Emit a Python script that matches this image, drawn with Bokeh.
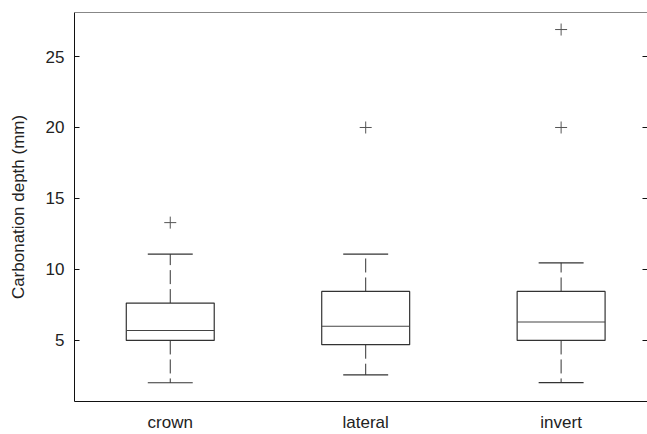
from bokeh.plotting import figure
from bokeh.models import LinearAxis, FixedTicker, Range1d
from bokeh.embed import file_html
from bokeh.resources import INLINE

categories = ["crown", "lateral", "invert"]
q1 = [5.0, 4.7, 5.0]
median = [5.7, 6.0, 6.3]
q3 = [7.63, 8.45, 8.45]
whisker_low = [2.02, 2.57, 2.03]
whisker_high = [11.08, 11.08, 10.47]
outlier_cat = ["crown", "lateral", "invert", "invert"]
outlier_val = [13.3, 20.0, 20.0, 26.9]
y_ticks = [5, 10, 15, 20, 25]

FONT = "Liberation Sans"
BOX_W = 0.45
CAP_W = 0.23
LINE = "#333333"
X_START, X_END = 0.51, 3.442
Y_START, Y_END = 0.7, 28.1

xpos = {c: i + 1 for i, c in enumerate(categories)}
x = [xpos[c] for c in categories]
ox = [xpos[c] for c in outlier_cat]

p = figure(width=647, height=434, output_backend="svg", toolbar_location=None,
           x_range=Range1d(X_START, X_END), y_range=Range1d(Y_START, Y_END),
           min_border_left=74, min_border_right=0, min_border_top=12,
           min_border_bottom=33, x_axis_location=None, y_axis_location=None)
p.outline_line_color = None
p.xgrid.visible = False
p.ygrid.visible = False
p.background_fill_color = "white"
p.border_fill_color = "white"

# whiskers (dashed)
p.segment(x0=x, x1=x, y0=q3, y1=whisker_high, line_color=LINE, line_width=1,
          line_dash="14 5")
p.segment(x0=x, x1=x, y0=q1, y1=whisker_low, line_color=LINE, line_width=1,
          line_dash="14 5")
# caps
p.segment(x0=[v - CAP_W / 2 for v in x], x1=[v + CAP_W / 2 for v in x],
          y0=whisker_high, y1=whisker_high, line_color=LINE, line_width=1.2)
p.segment(x0=[v - CAP_W / 2 for v in x], x1=[v + CAP_W / 2 for v in x],
          y0=whisker_low, y1=whisker_low, line_color=LINE, line_width=1.2)
# boxes
p.vbar(x=x, width=BOX_W, bottom=q1, top=q3, fill_color="white",
       line_color=LINE, line_width=1.2)
# medians
p.segment(x0=[v - BOX_W / 2 for v in x], x1=[v + BOX_W / 2 for v in x],
          y0=median, y1=median, line_color="#444444", line_width=1.2)
# outliers
p.scatter(x=ox, y=outlier_val, marker="cross", size=12, line_color="#555555",
          line_width=1)

# left axis
yl = LinearAxis(ticker=FixedTicker(ticks=y_ticks))
yl.axis_label = "Carbonation depth (mm)"
yl.axis_label_text_font = FONT
yl.axis_label_text_font_size = "17px"
yl.axis_label_text_font_style = "normal"
yl.axis_label_text_color = "#222222"
yl.axis_label_standoff = 15
yl.major_label_text_font = FONT
yl.major_label_text_font_size = "17px"
yl.major_label_text_color = "#222222"
yl.major_label_standoff = 10
yl.major_tick_in = 5
yl.major_tick_out = 0
yl.minor_tick_in = 0
yl.minor_tick_out = 0
yl.axis_line_color = "#111111"
yl.major_tick_line_color = "#111111"
p.add_layout(yl, "left")

# bottom axis
xb = LinearAxis(ticker=FixedTicker(ticks=x),
                major_label_overrides={xpos[c]: c for c in categories})
xb.major_label_text_font = FONT
xb.major_label_text_font_size = "17px"
xb.major_label_text_color = "#222222"
xb.major_label_standoff = 11
xb.axis_label_standoff = 0
xb.major_tick_in = 0
xb.major_tick_out = 0
xb.minor_tick_in = 0
xb.minor_tick_out = 0
xb.axis_line_color = "#111111"
p.add_layout(xb, "below")

# top border (axis line only, pinned at the top of the y range)
xt = LinearAxis(ticker=FixedTicker(ticks=[], minor_ticks=[]),
                fixed_location=Y_END)
xt.major_tick_in = 0
xt.major_tick_out = 0
xt.minor_tick_in = 0
xt.minor_tick_out = 0
xt.axis_line_color = "#111111"
p.add_layout(xt, "above")

# right-hand inward ticks, pinned at the right end of the x range
yr = LinearAxis(ticker=FixedTicker(ticks=[], minor_ticks=y_ticks),
                fixed_location=X_END)
yr.major_tick_in = 0
yr.major_tick_out = 0
yr.minor_tick_in = 5
yr.minor_tick_out = 0
yr.axis_line_color = None
yr.minor_tick_line_color = "#111111"
p.add_layout(yr, "right")

open("out.html", "w").write(file_html(p, INLINE))
